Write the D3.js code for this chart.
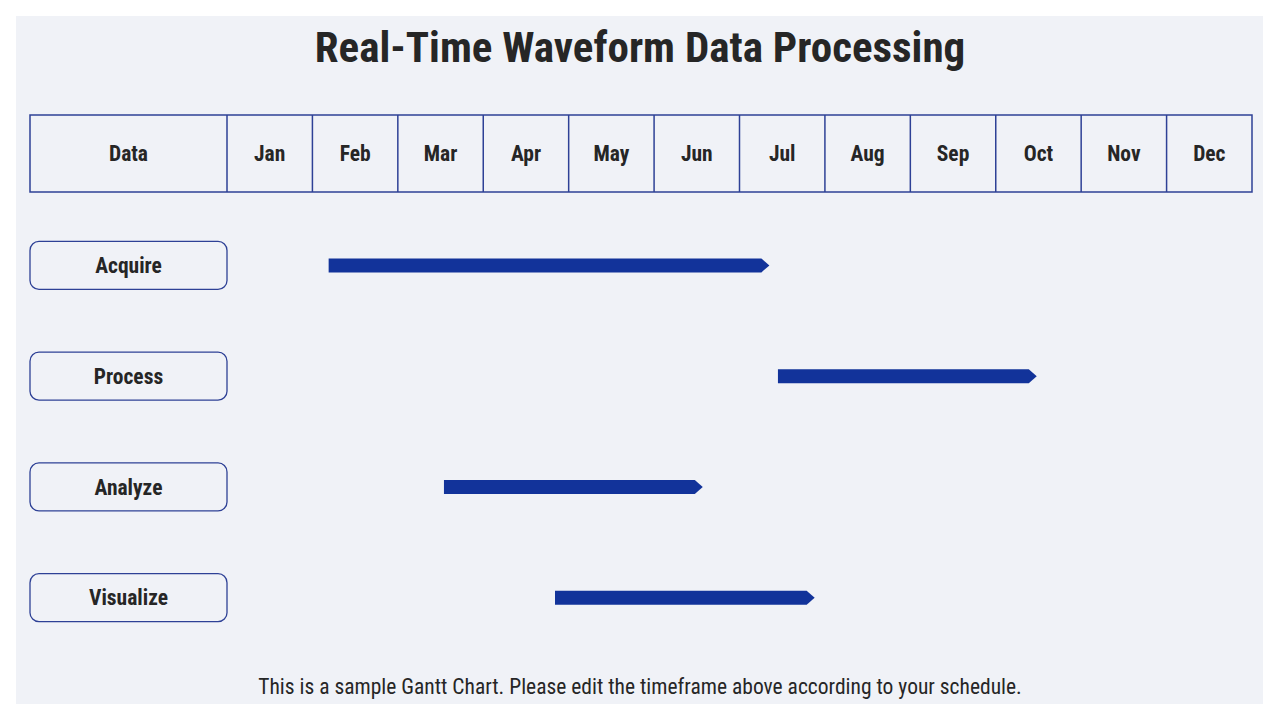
<!DOCTYPE html>
<html>
<head>
<meta charset="utf-8">
<script src="https://cdn.jsdelivr.net/npm/d3@7"></script>
<style>
  html, body { margin: 0; padding: 0; background: #ffffff; }
  svg { display: block; }
</style>
</head>
<body>
<div id="chart"></div>
<script>
// Chart data
const months = ['Jan', 'Feb', 'Mar', 'Apr', 'May', 'Jun', 'Jul', 'Aug', 'Sep', 'Oct', 'Nov', 'Dec'];
const tasks = ['Acquire', 'Process', 'Analyze', 'Visualize'];
// start / end in months from Jan 1 (fractional)
const taskStart = [1.19, 6.45, 2.54, 3.84];
const taskEnd = [6.35, 9.48, 5.57, 6.88];

const titleText = 'Real-Time Waveform Data Processing';
const headerLabel = 'Data';
const footerText = 'This is a sample Gantt Chart. Please edit the timeframe above according to your schedule.';

const W = 1280, H = 720;
const FONT = '"Liberation Sans Narrow", "Roboto Condensed", "DejaVu Sans Condensed", sans-serif';
const LINE = '#2e4196';
const BAR = '#12339a';
const TEXT = '#262626';

const svg = d3.select('#chart').append('svg')
  .attr('width', W)
  .attr('height', H);

// Panel background
svg.append('rect')
  .attr('x', 16).attr('y', 16)
  .attr('width', 1247).attr('height', 688)
  .attr('fill', '#f0f2f7');

// Title
svg.append('text')
  .attr('x', 640).attr('y', 62)
  .attr('text-anchor', 'middle')
  .attr('font-family', FONT)
  .attr('font-weight', 'bold')
  .attr('font-size', 43)
  .attr('fill', TEXT)
  .text(titleText);

// Layout
const labelX0 = 30, labelX1 = 227;
const headerY0 = 115, headerY1 = 192;

const x = d3.scaleLinear()
  .domain([0, 12])
  .range([labelX1, 1252]);

const y = d3.scaleBand()
  .domain(tasks)
  .range([210, 653])
  .paddingInner(0)
  .paddingOuter(0);

// Header table
const header = svg.append('g');
header.append('rect')
  .attr('x', labelX0).attr('y', headerY0)
  .attr('width', x(12) - labelX0).attr('height', headerY1 - headerY0)
  .attr('fill', 'none')
  .attr('stroke', LINE)
  .attr('stroke-width', 1.5);

header.selectAll('line.sep')
  .data(d3.range(0, 12))
  .enter()
  .append('line')
  .attr('class', 'sep')
  .attr('x1', d => x(d)).attr('x2', d => x(d))
  .attr('y1', headerY0).attr('y2', headerY1)
  .attr('stroke', LINE)
  .attr('stroke-width', 1.5);

header.append('text')
  .attr('x', (labelX0 + labelX1) / 2)
  .attr('y', (headerY0 + headerY1) / 2)
  .attr('dy', '0.36em')
  .attr('text-anchor', 'middle')
  .attr('font-family', FONT)
  .attr('font-weight', 'bold')
  .attr('font-size', 21.5)
  .attr('fill', TEXT)
  .text(headerLabel);

header.selectAll('text.month')
  .data(months)
  .enter()
  .append('text')
  .attr('class', 'month')
  .attr('x', (d, i) => x(i + 0.5))
  .attr('y', (headerY0 + headerY1) / 2)
  .attr('dy', '0.36em')
  .attr('text-anchor', 'middle')
  .attr('font-family', FONT)
  .attr('font-weight', 'bold')
  .attr('font-size', 21.5)
  .attr('fill', TEXT)
  .text(d => d);

// Task label boxes
const rowMid = d => y(d) + y.bandwidth() / 2;
const boxH = 48;

const rows = svg.append('g')
  .selectAll('g')
  .data(tasks)
  .enter()
  .append('g');

rows.append('rect')
  .attr('x', labelX0)
  .attr('y', d => rowMid(d) - boxH / 2)
  .attr('width', labelX1 - labelX0)
  .attr('height', boxH)
  .attr('rx', 9)
  .attr('fill', 'none')
  .attr('stroke', LINE)
  .attr('stroke-width', 1.3);

rows.append('text')
  .attr('x', (labelX0 + labelX1) / 2)
  .attr('y', d => rowMid(d))
  .attr('dy', '0.36em')
  .attr('text-anchor', 'middle')
  .attr('font-family', FONT)
  .attr('font-weight', 'bold')
  .attr('font-size', 21.5)
  .attr('fill', TEXT)
  .text(d => d);

// Bars with arrow tip
const barH = 14, tip = 8;
svg.append('g')
  .selectAll('path')
  .data(tasks)
  .enter()
  .append('path')
  .attr('fill', BAR)
  .attr('d', (d, i) => {
    const x0 = x(taskStart[i]);
    const x1 = x(taskEnd[i]);
    const cy = rowMid(d);
    const top = cy - barH / 2, bot = cy + barH / 2;
    return `M${x0},${top}L${x1 - tip},${top}L${x1},${cy}L${x1 - tip},${bot}L${x0},${bot}Z`;
  });

// Footer note
svg.append('text')
  .attr('x', 640).attr('y', 694)
  .attr('text-anchor', 'middle')
  .attr('font-family', FONT)
  .attr('font-size', 21.5)
  .attr('fill', TEXT)
  .text(footerText);
</script>
</body>
</html>
